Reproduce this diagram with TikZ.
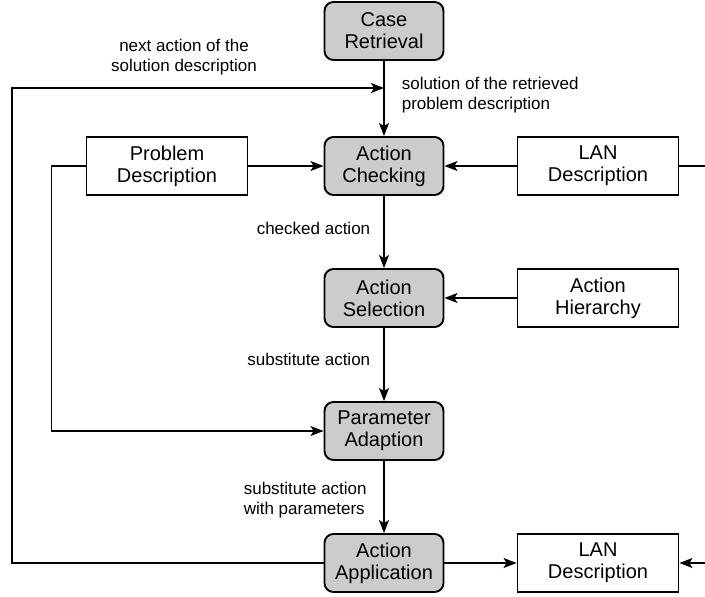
\documentclass[tikz,border=0pt]{standalone}
\usepackage{fontspec}
\setmainfont{Liberation Sans}
\usetikzlibrary{arrows.meta}

\begin{document}
\begin{tikzpicture}[x=1pt,y=-1pt,line width=1.6pt,
procblock/.style={draw,rounded corners=9pt,fill=black!20,line width=1.9pt,minimum width=119pt,minimum height=58pt,inner sep=0pt,align=center,font=\fontsize{20}{22}\selectfont},
datablock/.style={draw,rectangle,line width=1.9pt,minimum width=161pt,minimum height=58pt,inner sep=0pt,align=center,font=\fontsize{20}{22}\selectfont},
flowlabel/.style={inner sep=0pt,font=\fontsize{17}{20}\selectfont},
arr/.style={-{Stealth[length=13pt,width=10pt,inset=3pt]}}]

\useasboundingbox (0,0) rectangle (705,597);

\node[procblock] (CR) at (384,31) {Case\\Retrieval};
\node[procblock] (AC) at (384,166) {Action\\Checking};
\node[procblock] (AS) at (384,298) {Action\\Selection};
\node[procblock] (PA) at (384,431) {Parameter\\Adaption};
\node[procblock] (AA) at (384,563) {Action\\Application};

\node[datablock] (PD) at (167,166) {Problem\\Description};
\node[datablock] (LANin) at (598,166) {LAN\\Description};
\node[datablock] (AH) at (598,298) {Action\\Hierarchy};
\node[datablock] (LANout) at (598,563) {LAN\\Description};

\coordinate (back) at (12,88);
\coordinate (edgeT) at (705,166);
\coordinate (edgeB) at (705,563);

% main chain
\draw[arr] (CR) -- (AC);
\draw[arr] (AC) -- (AS);
\draw[arr] (AS) -- (PA);
\draw[arr] (PA) -- (AA);
\draw[arr] (AA) -- (LANout);

% side inputs
\draw[arr] (PD) -- (AC);
\draw[arr] (LANin) -- (AC);
\draw[arr] (AH) -- (AS);
\draw[arr] (PD.west) -- ++(-34,0) |- (PA.west);
\draw (LANin.east) -- (edgeT);
\draw[arr] (edgeB) -- (LANout.east);

% loop back to checking
\draw[arr] (AA.west) -| (back) -- (back -| CR.south);

\node[flowlabel,align=center] (lnext) at (184,57) {next action of the\\solution description};
\node[flowlabel,align=left,anchor=west] (lsol) at (401,95) {solution of the retrieved\\problem description};
\node[flowlabel,anchor=east] (lchk) at (371,228) {checked action};
\node[flowlabel,anchor=east] (lsub) at (371,359) {substitute action};
\node[flowlabel,align=left,anchor=west] (lpar) at (243,500) {substitute action\\with parameters};

\end{tikzpicture}
\end{document}
